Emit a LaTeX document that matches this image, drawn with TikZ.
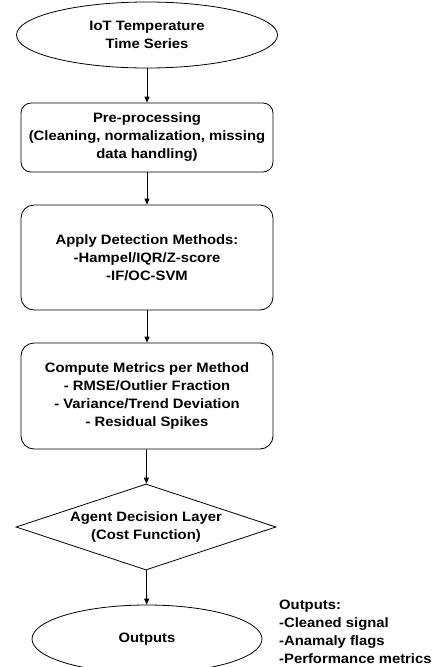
\documentclass[tikz,border=0pt]{standalone}
\usepackage{fontspec}
\setmainfont{Liberation Sans}[FakeStretch=1.09]
\usetikzlibrary{shapes.geometric}
\usetikzlibrary{arrows.meta}
\tikzset{>={Triangle[length=6pt,width=5pt]}}
\tikzset{
  txt/.style={font=\bfseries\fontsize{13.6}{18}\selectfont,align=center},
  term/.style={txt,draw,line width=0.8pt,ellipse,inner sep=0pt},
  proc/.style={txt,draw,line width=0.8pt,rectangle,rounded corners=13pt,
    minimum width=252pt,inner sep=0pt},
  choice/.style={txt,draw,line width=0.8pt,diamond,aspect=3,inner sep=0pt,
    minimum width=260pt,minimum height=86pt},
  flow/.style={->,line width=0.8pt}
}

\begin{document}
\begin{tikzpicture}[x=1pt,y=-1pt]
  \useasboundingbox (0,0) rectangle (439,667);

  % positions
  \coordinate (P1) at (147,35);
  \coordinate (P2) at (147,137.5);
  \coordinate (P3) at (147,257.5);
  \coordinate (P4) at (147,396);
  \coordinate (P5) at (146,527);
  \coordinate (P6) at (147,639);

  % blocks
  \node[term,minimum width=261pt,minimum height=66pt] (series) at (P1) {IoT Temperature\\Time Series};
  \node[proc,minimum height=69pt,rounded corners=10pt] (prep) at (P2) {Pre-processing\\(Cleaning, normalization, missing\\data handling)};
  \node[proc,minimum height=105pt] (detect) at (P3) {Apply Detection Methods:\\-Hampel/IQR/Z-score\\-IF/OC-SVM};
  \node[proc,minimum height=106pt] (metrics) at (P4) {Compute Metrics per Method\\- RMSE/Outlier Fraction\\- Variance/Trend Deviation\\- Residual Spikes};
  \node[choice] (agent) at (P5) {Agent Decision Layer\\(Cost Function)};
  \node[term,minimum width=230pt,minimum height=68pt] (out) at (P6) {Outputs};

  % side note
  \node[txt,align=left,anchor=north west,inner sep=0pt] (note) at (279,600) {Outputs:\\-Cleaned signal\\-Anamaly flags\\-Performance metrics};

  % arrows
  \draw[flow] (series) -- (prep);
  \draw[flow] (prep) -- (detect);
  \draw[flow] (detect) -- (metrics);
  \draw[flow] (metrics) -- (agent);
  \draw[flow] (agent) -- (out);
\end{tikzpicture}
\end{document}
